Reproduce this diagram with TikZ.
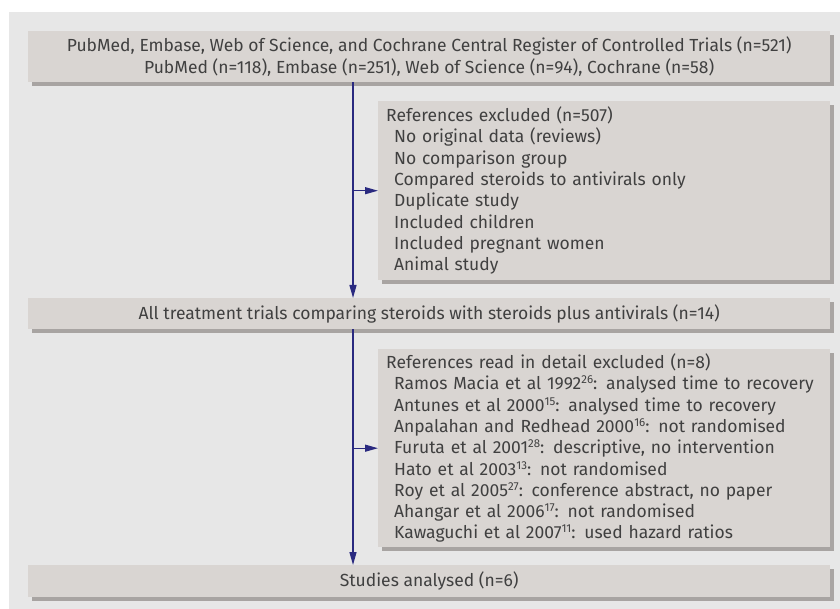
\documentclass[tikz,border=0pt]{standalone}
\usepackage{fontspec}
\setmainfont{Fira Sans}
\usetikzlibrary{arrows.meta,shadows}
\definecolor{panel}{HTML}{E7E7E7}
\definecolor{boxfill}{HTML}{D9D5D2}
\definecolor{shadowc}{HTML}{A8A4A2}
\definecolor{navy}{HTML}{2A2A80}
\definecolor{txt}{HTML}{404040}
\newcommand{\ind}{\hspace*{8pt}}
\newcommand{\sref}[1]{\raisebox{6pt}{\fontsize{11.5}{11.5}\selectfont #1}}
\begin{document}
\begin{tikzpicture}[x=1pt,y=-1pt,
  box/.style={fill=boxfill, text=txt, inner ysep=0pt, inner xsep=8pt, anchor=north west,
    font=\fontsize{17.5}{21.3}\selectfont,
    drop shadow={shadow xshift=4pt, shadow yshift=-4pt, fill=shadowc, opacity=1}},
  widebox/.style={box, minimum width=802pt, align=center},
  sidebox/.style={box, text width=436pt, align=left},
  conn/.style={draw=navy, line width=1.3pt, -{Triangle[length=13pt,width=7pt]}}]
\useasboundingbox (0,0) rectangle (840,609);
\fill[panel] (9,12) rectangle (840,609);
\coordinate (spine) at (353,0);
\node[widebox, minimum height=51pt] (b1) at (28,31)
  {PubMed, Embase, Web of Science, and Cochrane Central Register of Controlled Trials (n=521)\\
   PubMed (n=118), Embase (n=251), Web of Science (n=94), Cochrane (n=58)};
\node[sidebox, minimum height=179pt] (b2) at (378,101)
  {References excluded (n=507)\\
   \ind No original data (reviews)\\
   \ind No comparison group\\
   \ind Compared steroids to antivirals only\\
   \ind Duplicate study\\
   \ind Included children\\
   \ind Included pregnant women\\
   \ind Animal study};
\node[widebox, minimum height=31pt] (b3) at (28,298)
  {All treatment trials comparing steroids with steroids plus antivirals (n=14)};
\node[sidebox, minimum height=198pt] (b4) at (378,349)
  {References read in detail excluded (n=8)\\
   \ind Ramos Macia et al 1992\sref{26}: analysed time to recovery\\
   \ind Antunes et al 2000\sref{15}: analysed time to recovery\\
   \ind Anpalahan and Redhead 2000\sref{16}: not randomised\\
   \ind Furuta et al 2001\sref{28}: descriptive, no intervention\\
   \ind Hato et al 2003\sref{13}: not randomised\\
   \ind Roy et al 2005\sref{27}: conference abstract, no paper\\
   \ind Ahangar et al 2006\sref{17}: not randomised\\
   \ind Kawaguchi et al 2007\sref{11}: used hazard ratios};
\node[widebox, minimum height=32pt] (b5) at (28,565)
  {Studies analysed (n=6)};
\draw[conn] (b1.south -| spine) -- (b3.north -| spine);
\draw[conn] (b2.west -| spine) -- (b2.west);
\draw[conn] (b3.south -| spine) -- (b5.north -| spine);
\draw[conn] (b4.west -| spine) -- (b4.west);
\end{tikzpicture}
\end{document}
